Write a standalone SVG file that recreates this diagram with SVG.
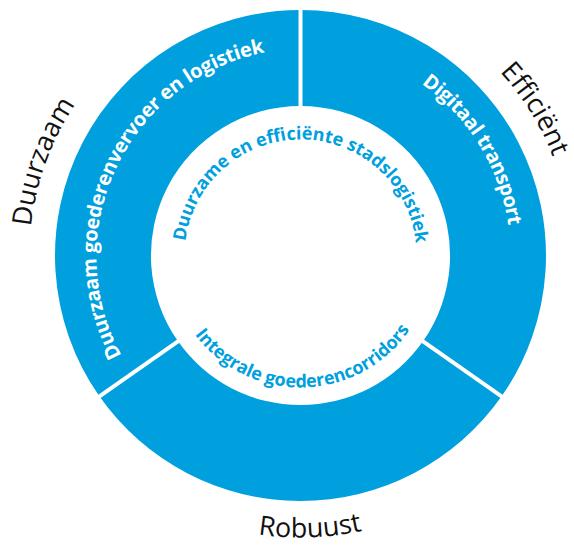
<svg xmlns="http://www.w3.org/2000/svg" width="574" height="545" viewBox="0 0 574 545">
<style>
.seg{fill:#009FDD}
.div{stroke:#FFFFFF;stroke-width:4;fill:none}
.ring{font-family:"Open Sans","Noto Sans","Liberation Sans",sans-serif;font-weight:700;font-size:20px;fill:#FFFFFF}
.inner{font-family:"Open Sans","Noto Sans","Liberation Sans",sans-serif;font-weight:700;font-size:18px;fill:#009FDD}
.outer{font-family:"Open Sans","Noto Sans","Liberation Sans",sans-serif;font-weight:400;font-size:27px;fill:#111111}
</style>
<defs>
<path id="pDuurzaam" d="M165,490.2 A271,271 0 0 1 347.55,-11.4"/>
<path id="pEfficient" d="M199,4.2 A271,271 0 0 1 481.8,456.9"/>
<path id="pRobuust" d="M24.7,314.1 A282,282 0 0 0 579.8,294.8"/>
<path id="pLeft" d="M180.5,423.6 A208,208 0 0 1 355.0,54.8"/>
<path id="pRight" d="M223.5,60.1 A210,210 0 0 1 439.6,412.8"/>
<path id="pTop" d="M184.9,264.6 A116,116 0 1 1 416,266.6"/>
<path id="pBottom" d="M171.1,281.4 A132,132 0 0 0 431,275.5"/>
</defs>
<g id="segment-duurzaam-goederenvervoer">
<path class="seg" d="M99.4,396.3 A245.5,245.5 0 0 1 300.5,10 L300.5,106 A149.5,149.5 0 0 0 178,341.3 Z"/>
<text class="ring"><textPath href="#pLeft" startOffset="50%" text-anchor="middle" textLength="390" lengthAdjust="spacing">Duurzaam goederenvervoer en logistiek</textPath></text>
</g>
<g id="segment-digitaal-transport">
<path class="seg" d="M300.5,10 A245.5,245.5 0 0 1 501.6,396.3 L423,341.3 A149.5,149.5 0 0 0 300.5,106 Z"/>
<text class="ring"><textPath href="#pRight" startOffset="50%" text-anchor="middle" textLength="171" lengthAdjust="spacing">Digitaal transport</textPath></text>
</g>
<g id="segment-robuust">
<path class="seg" d="M501.6,396.3 A245.5,245.5 0 0 1 99.4,396.3 L178,341.3 A149.5,149.5 0 0 0 423,341.3 Z"/>
</g>
<g id="dividers">
<line class="div" x1="300.5" y1="108.5" x2="300.5" y2="7.5"/>
<line class="div" x1="180.1" y1="339.8" x2="97.3" y2="397.8"/>
<line class="div" x1="420.9" y1="339.8" x2="503.7" y2="397.8"/>
</g>
<g id="center">
<text class="inner"><textPath href="#pTop" startOffset="50%" text-anchor="middle" textLength="338" lengthAdjust="spacing">Duurzame en efficiënte stadslogistiek</textPath></text>
<text class="inner"><textPath href="#pBottom" startOffset="50%" text-anchor="middle" textLength="251" lengthAdjust="spacing">Integrale goederencorridors</textPath></text>
</g>
<g id="labels">
<text class="outer"><textPath href="#pDuurzaam" startOffset="50%" text-anchor="middle">Duurzaam</textPath></text>
<text class="outer"><textPath href="#pEfficient" startOffset="50%" text-anchor="middle">Efficiënt</textPath></text>
<text class="outer"><textPath href="#pRobuust" startOffset="50%" text-anchor="middle">Robuust</textPath></text>
</g>
</svg>
